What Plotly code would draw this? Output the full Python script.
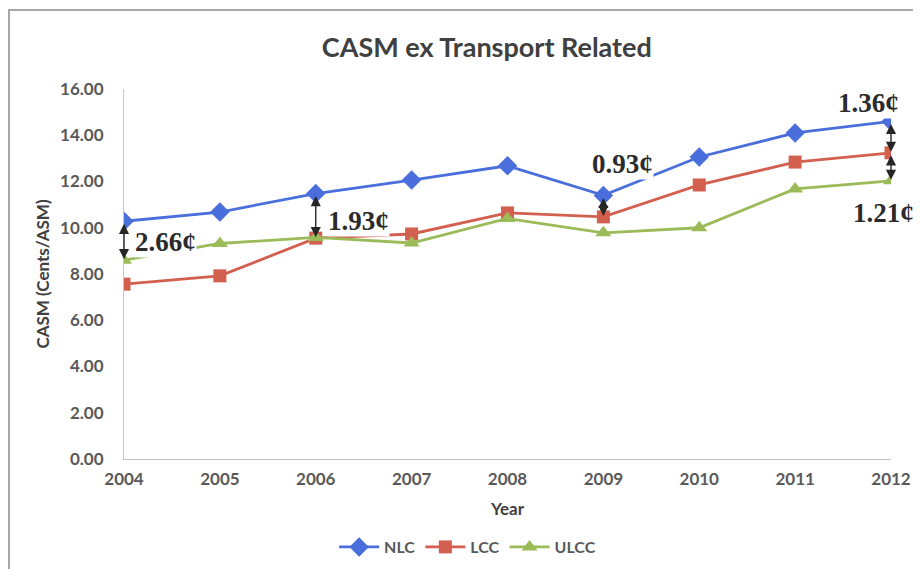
import plotly.graph_objects as go

years = [2004, 2005, 2006, 2007, 2008, 2009, 2010, 2011, 2012]
nlc = [10.28, 10.68, 11.48, 12.06, 12.68, 11.40, 13.06, 14.10, 14.60]
lcc = [7.56, 7.92, 9.55, 9.73, 10.64, 10.47, 11.85, 12.84, 13.24]
ulcc = [8.60, 9.32, 9.58, 9.34, 10.40, 9.78, 10.00, 11.68, 12.03]

gap_labels = ["2.66¢", "1.93¢", "0.93¢", "1.36¢", "1.21¢"]
y_ticks = [0, 2, 4, 6, 8, 10, 12, 14, 16]

SANS = "Lato, Open Sans, sans-serif"
tick_font = dict(family=SANS, size=17, color="#595959", weight="bold")

fig = go.Figure()
fig.add_trace(go.Scatter(x=years, y=nlc, name="NLC", mode="lines+markers",
                         line=dict(color="#4A6FDC", width=2.8),
                         marker=dict(symbol="diamond", size=15, color="#4A6FDC")))
fig.add_trace(go.Scatter(x=years, y=lcc, name="LCC", mode="lines+markers",
                         line=dict(color="#D35F4F", width=2.8),
                         marker=dict(symbol="square", size=13, color="#D35F4F")))
fig.add_trace(go.Scatter(x=years, y=ulcc, name="ULCC", mode="lines+markers",
                         line=dict(color="#9BBB59", width=2.8),
                         marker=dict(symbol="triangle-up", size=14, color="#9BBB59")))

def arrow(x, y0, y1):
    fig.add_annotation(x=x, y=y1, ax=x, ay=y0, xref="x", yref="y", axref="x", ayref="y",
                       text="", showarrow=True, arrowhead=2, startarrowhead=2,
                       arrowside="end+start", arrowsize=1.45, startarrowsize=1.45,
                       arrowwidth=1.4, arrowcolor="#262626", standoff=1, startstandoff=1)

arrow(2004, nlc[0], ulcc[0])
arrow(2006, nlc[2], lcc[2])
arrow(2009, nlc[5], lcc[5])
arrow(2012, nlc[8], lcc[8])
arrow(2012, lcc[8], ulcc[8])

lab_font = dict(family="Liberation Serif, Times New Roman, serif", size=27, color="#2B2B2B", weight="bold")
label_pos = [(2004.43, 9.4), (2006.45, 10.3), (2009.2, 12.75), (2011.77, 15.4), (2011.92, 10.65)]
for (lx, ly), t in zip(label_pos, gap_labels):
    fig.add_annotation(x=lx, y=ly, xref="x", yref="y", text=t, showarrow=False,
                       font=lab_font, bgcolor="white", borderpad=0)

# outer chart frame (left and top edges visible); page body has an 8px margin
fig.add_shape(type="path", xref="paper", yref="paper",
              path="M -0.1499,-0.35 L -0.1499,1.2135 L 1.06,1.2135",
              line=dict(color="#A6A6A6", width=2))

fig.update_layout(
    width=913, height=561,
    paper_bgcolor="white", plot_bgcolor="white",
    margin=dict(l=116, r=30, t=81, b=110, autoexpand=False),
    title=dict(text="CASM ex Transport Related", x=0.473, xref="paper", xanchor="center",
               y=1 - 40 / 561, yanchor="middle",
               font=dict(family=SANS, size=27, color="#404040", weight="bold")),
    xaxis=dict(range=[2004, 2012], tickvals=years, ticktext=[str(y) for y in years],
               showgrid=False, zeroline=False, showline=True, linecolor="#BFBFBF", linewidth=1,
               ticks="", tickfont=tick_font, ticklabelstandoff=5, automargin=False,
               title=dict(text="Year", standoff=14,
                          font=dict(family=SANS, size=17, color="#404040", weight="bold"))),
    yaxis=dict(range=[0, 16], tickvals=y_ticks, tickformat=".2f",
               showgrid=False, zeroline=False, showline=True, linecolor="#D9BFBF", linewidth=1,
               ticks="", tickfont=tick_font, ticklabelstandoff=16, automargin=False,
               title=dict(text="CASM (Cents/ASM)", standoff=6,
                          font=dict(family=SANS, size=17, color="#404040", weight="bold"))),
    legend=dict(orientation="h", x=0.448, xanchor="center",
                yref="container", y=1 - 539 / 561, yanchor="middle",
                font=dict(family=SANS, size=16, color="#595959", weight="bold"),
                itemwidth=40),
    showlegend=True,
)

fig.write_html("out.html")
